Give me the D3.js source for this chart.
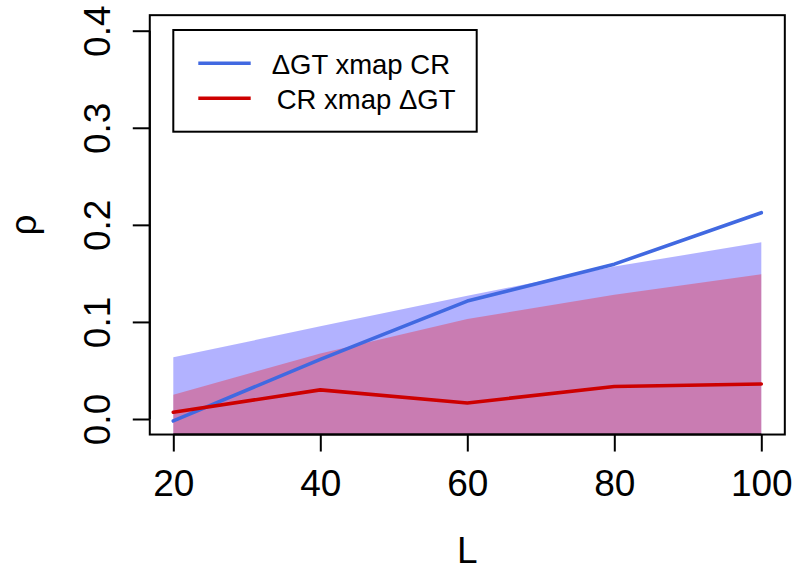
<!DOCTYPE html>
<html>
<head>
<meta charset="utf-8">
<script src="https://cdn.jsdelivr.net/npm/d3@7"></script>
<style>
  html, body { margin: 0; padding: 0; background: #fff; }
  svg { display: block; }
  text { font-family: "Liberation Sans", Arial, Helvetica, sans-serif; fill: #000; }
</style>
</head>
<body>
<svg id="chart" width="797" height="572"></svg>
<script>
// ---- data ----
const L = [20, 40, 60, 80, 100];
const gtXmapCR = [-0.002, 0.0615, 0.1215, 0.1595, 0.2125];   // blue line
const crXmapGT = [0.007, 0.030, 0.0165, 0.0335, 0.036];       // red line
const gtBandUpper = [0.0635, 0.0955, 0.127, 0.157, 0.182];    // blue shaded band (upper edge)
const crBandUpper = [0.025, 0.0675, 0.103, 0.128, 0.149];     // red shaded band (upper edge)
const xTicks = [20, 40, 60, 80, 100];
const yTicks = [0.0, 0.1, 0.2, 0.3, 0.4];
const seriesNames = ["\u0394GT xmap CR", "CR xmap \u0394GT"];
const seriesColors = ["#4169E1", "#CD0000"];
const bandColors = ["rgba(0,0,255,0.30)", "rgba(255,0,0,0.30)"];

// ---- scales (R style 4% extension) ----
const x = d3.scaleLinear().domain([20, 100]).range([173.3, 761.3]);
const y = d3.scaleLinear().domain([0, 0.4]).range([419, 30.7]);
const xLo = 20 - 0.04 * 80, xHi = 100 + 0.04 * 80;
const yLo = 0 - 0.04 * 0.4, yHi = 0.4 + 0.04 * 0.4;
const box = { x0: x(xLo), x1: x(xHi), y0: y(yHi), y1: y(yLo) };

const svg = d3.select("#chart");
svg.append("defs").append("clipPath").attr("id", "plotclip")
  .append("rect").attr("x", box.x0).attr("y", box.y0)
  .attr("width", box.x1 - box.x0).attr("height", box.y1 - box.y0);

const plot = svg.append("g").attr("clip-path", "url(#plotclip)");

// shaded bands (from upper edge down past the bottom of the plot region)
const bands = [gtBandUpper, crBandUpper];
bands.forEach((arr, i) => {
  const area = d3.area()
    .x((d, j) => x(L[j]))
    .y0(() => box.y1 + 5)
    .y1(d => y(d));
  plot.append("path").datum(arr).attr("d", area)
    .attr("fill", bandColors[i]).attr("stroke", "none");
});

// lines
[gtXmapCR, crXmapGT].forEach((arr, i) => {
  const line = d3.line().x((d, j) => x(L[j])).y(d => y(d));
  plot.append("path").datum(arr).attr("d", line)
    .attr("fill", "none").attr("stroke", seriesColors[i])
    .attr("stroke-width", 3.6).attr("stroke-linejoin", "round").attr("stroke-linecap", "round");
});

// box
svg.append("rect").attr("x", box.x0).attr("y", box.y0)
  .attr("width", box.x1 - box.x0).attr("height", box.y1 - box.y0)
  .attr("fill", "none").attr("stroke", "#000").attr("stroke-width", 2);

// x axis
const xAxis = d3.axisBottom(x).tickValues(xTicks).tickSize(17).tickPadding(19)
  .tickFormat(d3.format("d"));
const gx = svg.append("g").attr("transform", `translate(0,${box.y1})`).call(xAxis);
gx.select(".domain").attr("d", `M${x(20)},0H${x(100)}`).attr("stroke", "#000").attr("stroke-width", 2);
gx.selectAll(".tick line").attr("stroke", "#000").attr("stroke-width", 2);
gx.selectAll(".tick text").attr("font-size", 37).attr("dy", null).attr("y", 496 - box.y1)
  .attr("font-family", "Liberation Sans, Arial, sans-serif");

// y axis
const yAxis = d3.axisLeft(y).tickValues(yTicks).tickSize(17).tickFormat(d3.format(".1f"));
const gy = svg.append("g").attr("transform", `translate(${box.x0},0)`).call(yAxis);
gy.select(".domain").attr("d", `M0,${y(0)}V${y(0.4)}`).attr("stroke", "#000").attr("stroke-width", 2);
gy.selectAll(".tick line").attr("stroke", "#000").attr("stroke-width", 2);
gy.selectAll(".tick text")
  .attr("font-size", 37).attr("font-family", "Liberation Sans, Arial, sans-serif")
  .attr("x", null).attr("dy", null)
  .attr("text-anchor", "middle")
  .attr("transform", `translate(${110 - box.x0},0) rotate(-90)`);

// axis titles
svg.append("text").attr("x", (box.x0 + box.x1) / 2).attr("y", 562.5)
  .attr("text-anchor", "middle").attr("font-size", 37).text("L");
svg.append("text").attr("transform", `translate(36,${(box.y0 + box.y1) / 2}) rotate(-90)`)
  .attr("text-anchor", "middle").attr("font-size", 37).text("\u03C1");

// legend
const lg = svg.append("g");
lg.append("rect").attr("x", 173.3).attr("y", 30).attr("width", 303.4).attr("height", 101.7)
  .attr("fill", "#fff").attr("stroke", "#000").attr("stroke-width", 2);
const legY = [63.3, 98.3];
const legTextX = [271.7, 276.7];
seriesNames.forEach((name, i) => {
  lg.append("line").attr("x1", 198.3).attr("x2", 250.7).attr("y1", legY[i]).attr("y2", legY[i])
    .attr("stroke", seriesColors[i]).attr("stroke-width", 3.6);
  lg.append("text").attr("x", legTextX[i]).attr("y", legY[i] + 10.3)
    .attr("font-size", 27.5).text(name);
});
</script>
</body>
</html>
